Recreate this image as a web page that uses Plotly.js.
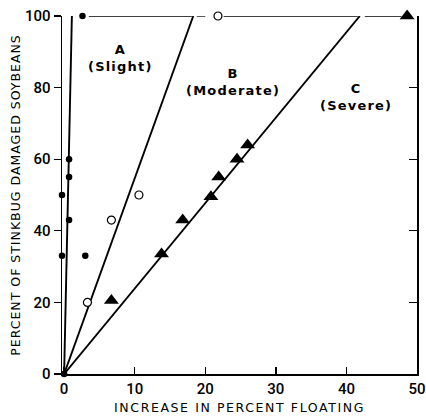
<!DOCTYPE html>
<html>
<head>
<meta charset="utf-8">
<script src="https://cdn.plot.ly/plotly-3.0.1.min.js"></script>
<style>
  html, body { margin: 0; padding: 0; background: #fff; }
  #chart { width: 426px; height: 417px; }
  .xtitle { letter-spacing: 1.6px; }
  .ytitle { letter-spacing: 1px; }
  .annotation-text { letter-spacing: 1.2px; }
</style>
</head>
<body>
<div id="chart"></div>
<script>
// Series A (Slight) - filled dots
const slightX = [0, -0.3, -0.3, 0.7, 0.7, 0.7, 3.0, 2.6];
const slightY = [0, 33, 50, 43, 55, 60, 33, 100];
// Series B (Moderate) - open circles
const moderateX = [3.3, 6.7, 10.6, 21.8];
const moderateY = [20, 43, 50, 100];
// Series C (Severe) - triangles
const severeX = [6.7, 13.8, 16.8, 20.8, 21.9, 24.5, 26.0, 48.6];
const severeY = [20.5, 33.5, 43, 49.5, 55, 60, 64, 100];
// Fitted lines (through origin to 100%)
const lineAX = [0, 1.1];
const lineBX = [0, 18.3];
const lineCX = [0, 41.9];
const lineY = [0, 100];
// Ticks
const xTicks = [0, 10, 20, 30, 40, 50];
const yTicks = [0, 20, 40, 60, 80, 100];
const labels = ["A<br>(Slight)", "B<br>(Moderate)", "C<br>(Severe)"];

const lineStyle = {color: '#000', width: 1.9};
const traces = [
  {x: lineAX, y: lineY, mode: 'lines', line: lineStyle, hoverinfo: 'skip'},
  {x: lineBX, y: lineY, mode: 'lines', line: lineStyle, hoverinfo: 'skip'},
  {x: lineCX, y: lineY, mode: 'lines', line: lineStyle, hoverinfo: 'skip', yaxis: 'y2'},
  {x: slightX, y: slightY, mode: 'markers', cliponaxis: false,
   marker: {symbol: 'circle', size: 6.5, color: '#000'}},
  {x: moderateX, y: moderateY, mode: 'markers', cliponaxis: false,
   marker: {symbol: 'circle', size: 8, color: '#fff', line: {color: '#000', width: 1.2}}},
  {x: severeX, y: severeY, mode: 'markers', cliponaxis: false,
   marker: {symbol: 'triangle-up', size: 13, color: '#000'}}
];

// broken top line at 100%
const topSegs = [[3.5, 18.1], [18.8, 20.0], [22.6, 41.6], [42.6, 47.8]];
const shapes = topSegs.map(s => ({
  type: 'line', xref: 'x', yref: 'y', x0: s[0], x1: s[1], y0: 100, y1: 100,
  line: {color: '#000', width: 1.3}
}));

const tickFont = {family: 'Roboto, sans-serif', size: 15, color: '#000', weight: 500};
const titleFont = {family: 'DejaVu Sans, sans-serif', size: 12.5, color: '#000'};
const annFont = {family: 'DejaVu Sans, sans-serif', size: 13, color: '#000', weight: 'bold'};

const layout = {
  width: 426, height: 417,
  margin: {l: 62, r: 9, t: 16, b: 43, pad: 0},
  paper_bgcolor: '#fff', plot_bgcolor: '#fff',
  showlegend: false,
  xaxis: {
    range: [-0.3, 50], tickvals: xTicks, ticktext: xTicks.map(String),
    ticks: 'inside', ticklen: 7, tickwidth: 1.3, tickcolor: '#000',
    showline: true, linecolor: '#000', linewidth: 1.5,
    showgrid: false, zeroline: false, tickfont: tickFont,
    title: {text: 'INCREASE IN PERCENT FLOATING', font: titleFont, standoff: 6},
    automargin: false
  },
  yaxis: {
    range: [0, 100], tickvals: yTicks, ticktext: yTicks.map(String),
    ticks: 'outside', ticklen: 7, tickwidth: 1.3, tickcolor: '#000',
    showline: true, linecolor: '#000', linewidth: 1.5,
    showgrid: false, zeroline: false, tickfont: tickFont,
    title: {text: 'PERCENT OF STINKBUG DAMAGED SOYBEANS', font: titleFont, standoff: 1},
    automargin: false
  },
  yaxis2: {
    overlaying: 'y', side: 'right', range: [0, 100],
    tickvals: [20, 40, 60, 80], showticklabels: false,
    ticks: 'inside', ticklen: 8, tickwidth: 1.3, tickcolor: '#000',
    showline: true, linecolor: '#000', linewidth: 1.5,
    showgrid: false, zeroline: false
  },
  shapes: shapes,
  annotations: [
    {x: 120, y: 58, text: labels[0]},
    {x: 233, y: 82, text: labels[1]},
    {x: 356, y: 97, text: labels[2]}
  ].map(a => ({xref: 'paper', yref: 'paper', x: (a.x - 62) / 355, y: 1 - (a.y - 16) / 358,
    text: a.text, showarrow: false, font: annFont, align: 'center',
    xanchor: 'center', yanchor: 'middle'}))
};

Plotly.newPlot('chart', traces, layout, {displayModeBar: false, staticPlot: true});
</script>
</body>
</html>
